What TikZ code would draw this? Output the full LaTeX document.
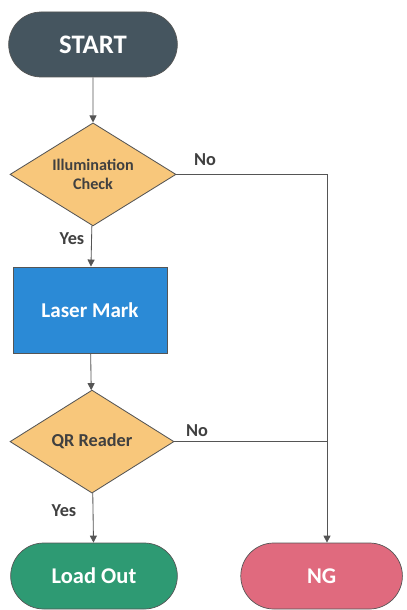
\documentclass[tikz,border=0pt]{standalone}
\usepackage{fontspec}
\setmainfont{Carlito}
\usepackage{xcolor}
\usepackage{tikz}
\usetikzlibrary{arrows.meta,positioning,shapes.geometric,shapes.misc,calc}

\definecolor{startcol}{HTML}{45555F}
\definecolor{checkcol}{HTML}{F8C77B}
\definecolor{markcol}{HTML}{2B8AD6}
\definecolor{okcol}{HTML}{2E9A73}
\definecolor{ngcol}{HTML}{E06A7E}
\definecolor{linecol}{HTML}{555555}
\definecolor{labcol}{HTML}{404040}

\begin{document}
\begin{tikzpicture}[
    terminal/.style={rounded rectangle, draw=linecol, line width=0.5pt, text=white,
                     font=\fontsize{16}{18}\selectfont\bfseries},
    check/.style={diamond, aspect=1.6, draw=linecol, line width=0.6pt, fill=checkcol,
                  inner sep=0pt, minimum width=4.15cm, minimum height=2.575cm,
                  text=labcol, align=center},
    process/.style={rectangle, draw=linecol, line width=0.6pt, fill=markcol, text=white,
                    minimum width=3.85cm, minimum height=2.15cm,
                    font=\fontsize{15}{17}\selectfont\bfseries},
    branch/.style={font=\fontsize{13}{15}\selectfont\bfseries, text=labcol},
    flow/.style={draw=linecol, line width=0.6pt},
    >={Triangle[length=5pt,width=5pt]}
]
\useasboundingbox (0,0) rectangle (10.15,-15.25);

% --- Main column ---
\node[terminal, fill=startcol, minimum width=4.45cm, minimum height=1.625cm,
      font=\fontsize{19}{21}\selectfont\bfseries] (start) at (2.325,-1.1125) {START};
\node[check, font=\fontsize{11.5}{14}\selectfont\bfseries] (illum) at (2.325,-4.36)
  {Illumination\\Check};
\node[process] (laser) at (2.25,-7.75) {Laser Mark};
\node[check, minimum width=4.1cm, font=\fontsize{13}{15}\selectfont\bfseries] (qr)
  at (2.3,-11.04) {QR Reader};

% --- End states ---
\node[terminal, fill=okcol, minimum width=4.4cm, minimum height=1.65cm] (load)
  at (2.35,-14.4) {Load Out};
\node[terminal, fill=ngcol, minimum width=4.275cm, minimum height=1.65cm] (ng)
  at (8.04,-14.4) {NG};

% --- Yes path ---
\draw[flow,->] (start) -- (illum);
\draw[flow,->] (illum) -- (laser);
\draw[flow,->] (laser) -- (qr);
\draw[flow,->] (qr) -- (load);

% --- No path ---
\coordinate (nocorner) at (8.175,-4.36);
\draw[flow,->] (illum.east) -- (nocorner) -- (nocorner |- ng.north);
\draw[flow] (qr.east) -- (qr.east -| nocorner);

% --- Branch labels ---
\node[branch] (no1) at (5.125,-4.0) {No};
\node[branch] (yes1) at (1.8,-5.975) {Yes};
\node[branch] (no2) at (4.925,-10.775) {No};
\node[branch] (yes2) at (1.6,-12.775) {Yes};
\end{tikzpicture}
\end{document}
